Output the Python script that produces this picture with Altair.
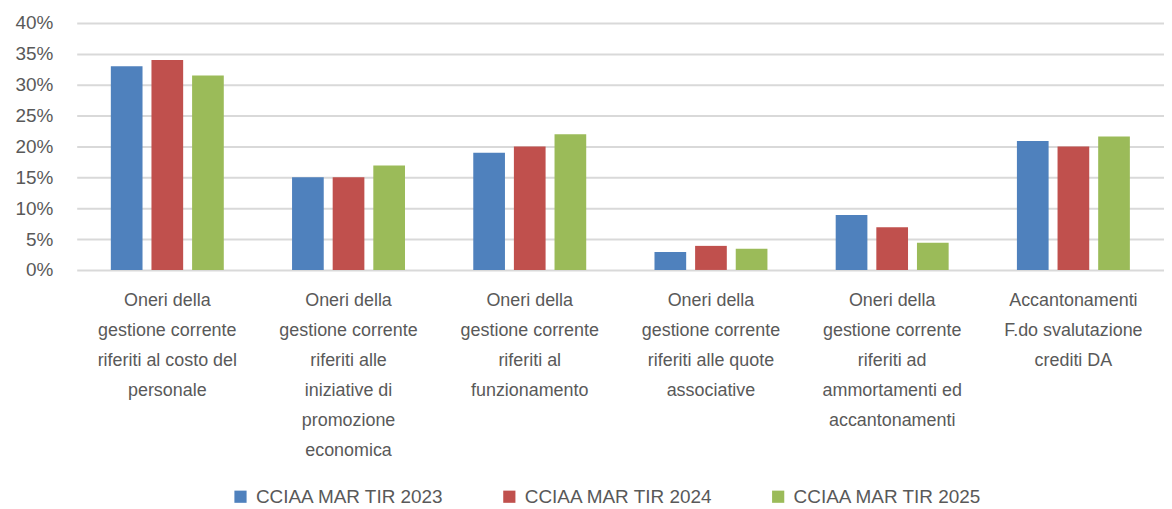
import altair as alt
import pandas as pd

# Category labels (line breaks marked with "|")
categories = [
    "Oneri della|gestione corrente|riferiti al costo del|personale",
    "Oneri della|gestione corrente|riferiti alle|iniziative di|promozione|economica",
    "Oneri della|gestione corrente|riferiti al|funzionamento",
    "Oneri della|gestione corrente|riferiti alle quote|associative",
    "Oneri della|gestione corrente|riferiti ad|ammortamenti ed|accantonamenti",
    "Accantonamenti|F.do svalutazione|crediti DA",
]

series = ["CCIAA MAR TIR 2023", "CCIAA MAR TIR 2024", "CCIAA MAR TIR 2025"]
colors = ["#4F81BD", "#C0504D", "#9BBB59"]

v2023 = [0.330, 0.150, 0.190, 0.029, 0.089, 0.209]
v2024 = [0.340, 0.150, 0.200, 0.039, 0.069, 0.200]
v2025 = [0.315, 0.169, 0.220, 0.0345, 0.044, 0.216]

y_ticks = [0, 0.05, 0.10, 0.15, 0.20, 0.25, 0.30, 0.35, 0.40]

rows = []
for s, vals in zip(series, [v2023, v2024, v2025]):
    for c, v in zip(categories, vals):
        rows.append({"categoria": c, "serie": s, "valore": v})
df = pd.DataFrame(rows)

FONT = "Liberation Sans"
GREY = "#595959"

chart = (
    alt.Chart(df)
    .mark_bar()
    .encode(
        x=alt.X(
            "categoria:N",
            sort=categories,
            scale=alt.Scale(paddingInner=0, paddingOuter=0),
            axis=alt.Axis(
                title=None,
                labelAngle=0,
                labelExpr="split(datum.label, '|')",
                labelFontSize=18,
                labelLineHeight=30,
                labelColor=GREY,
                labelFont=FONT,
                labelPadding=22,
                labelLimit=300,
                ticks=False,
                domain=False,
                grid=False,
            ),
        ),
        xOffset=alt.XOffset(
            "serie:N",
            sort=series,
            scale=alt.Scale(paddingInner=0.22, paddingOuter=0.84),
        ),
        y=alt.Y(
            "valore:Q",
            scale=alt.Scale(domain=[0, 0.4], nice=False),
            axis=alt.Axis(
                title=None,
                values=y_ticks,
                format=".0%",
                labelFontSize=19,
                labelColor=GREY,
                labelFont=FONT,
                labelPadding=24,
                ticks=False,
                domain=False,
                grid=True,
                gridColor="#d9d9d9",
                gridWidth=2,
            ),
        ),
        color=alt.Color(
            "serie:N",
            sort=series,
            scale=alt.Scale(domain=series, range=colors),
            legend=alt.Legend(
                title=None,
                orient="none",
                legendX=155,
                legendY=466,
                direction="horizontal",
                columns=3,
                columnPadding=56,
                symbolType="square",
                symbolSize=150,
                symbolStrokeWidth=0,
                labelFontSize=19,
                labelFont=FONT,
                labelColor=GREY,
                labelOffset=6,
                labelLimit=400,
                padding=0,
            ),
        ),
    )
    .properties(
        width=1092,
        height=248,
        autosize=alt.AutoSizeParams(type="none"),
        padding={"left": 69, "top": 14, "right": 0, "bottom": 240},
    )
    .configure_view(stroke=None)
)

chart.save("out.html", embed_options={"renderer": "svg", "actions": False})
